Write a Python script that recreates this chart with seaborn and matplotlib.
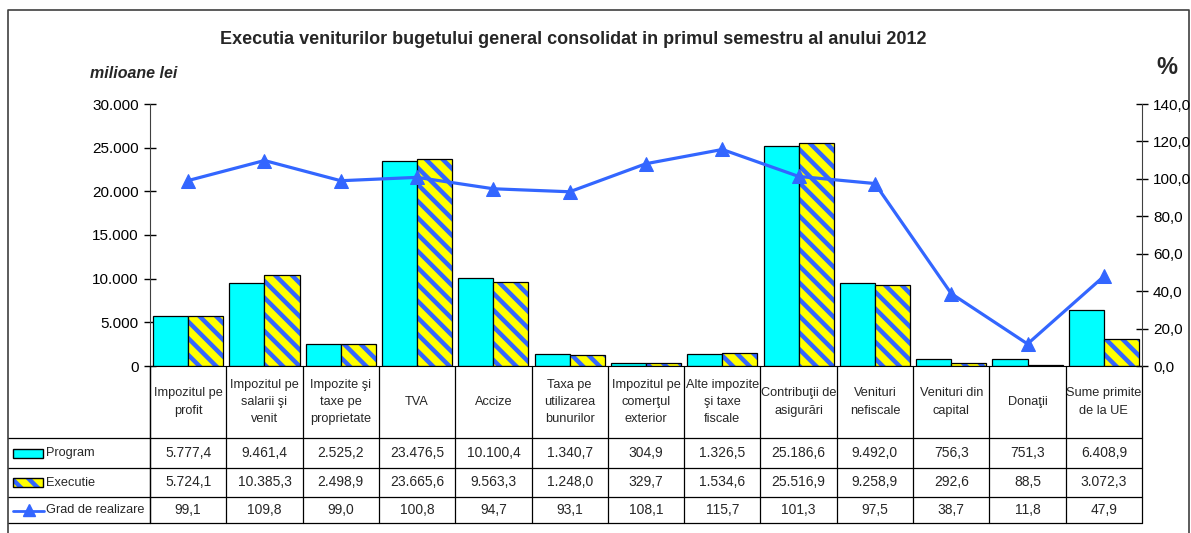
import numpy as np
import pandas as pd
import matplotlib.pyplot as plt
import seaborn as sns
from matplotlib.patches import Rectangle

# ─── Data ────────────────────────────────────────────────────────────────
categories = [
    "Impozitul pe\nprofit", "Impozitul pe\nsalarii şi\nvenit", "Impozite şi\ntaxe pe\nproprietate",
    "TVA", "Accize", "Taxa pe\nutilizarea\nbunurilor", "Impozitul pe\ncomerţul\nexterior",
    "Alte impozite\nşi taxe\nfiscale", "Contribuţii de\nasigurări", "Venituri\nnefiscale",
    "Venituri din\ncapital", "Donaţii", "Sume primite\nde la UE",
]
program = [5777.4, 9461.4, 2525.2, 23476.5, 10100.4, 1340.7, 304.9, 1326.5,
           25186.6, 9492.0, 756.3, 751.3, 6408.9]
executie = [5724.1, 10385.3, 2498.9, 23665.6, 9563.3, 1248.0, 329.7, 1534.6,
            25516.9, 9258.9, 292.6, 88.5, 3072.3]
grad = [99.1, 109.8, 99.0, 100.8, 94.7, 93.1, 108.1, 115.7, 101.3, 97.5, 38.7, 11.8, 47.9]
series_names = ["Program", "Executie", "Grad de realizare"]
left_ticks = [0, 5000, 10000, 15000, 20000, 25000, 30000]
right_ticks = [0, 20, 40, 60, 80, 100, 120, 140]

title = "Executia veniturilor bugetului general consolidat in primul semestru al anului 2012"

CYAN = "#00FFFF"
YELLOW = "#FFFF00"
BLUE = "#3366FF"
HATCH = "\\\\"


def fmt_ro(v, dec=1):
    s = f"{v:,.{dec}f}"
    return s.replace(",", "#").replace(".", ",").replace("#", ".")


sns.set_style("white")
plt.rcParams["font.family"] = ["Liberation Sans Narrow", "Liberation Sans", "DejaVu Sans"]
plt.rcParams["hatch.linewidth"] = 3.2

W, H = 1191, 533
fig = plt.figure(figsize=(W / 100, H / 100), dpi=100)

# background axes in pixel coordinates (frame, legend column, titles)
bg = fig.add_axes([0, 0, 1, 1])
bg.set_xlim(0, W)
bg.set_ylim(H, 0)
bg.axis("off")

X0, X1, Y0, Y1 = 150, 1142, 366, 104
ax = fig.add_axes([X0 / W, 1 - Y0 / H, (X1 - X0) / W, (Y0 - Y1) / H])
ax.patch.set_alpha(0)

df = pd.DataFrame({
    "categorie": categories * 2,
    "serie": [series_names[0]] * len(categories) + [series_names[1]] * len(categories),
    "valoare": program + executie,
})

sns.barplot(data=df, x="categorie", y="valoare", hue="serie", order=categories,
            hue_order=series_names[:2], palette=[CYAN, YELLOW], saturation=1,
            width=0.92, edgecolor="black", linewidth=0.9, legend=False, ax=ax)

# hatched execution bars with black outline
for p in ax.containers[1]:
    p.set_hatch(HATCH)
    p.set_edgecolor(BLUE)
    p.set_linewidth(0)
    ax.add_patch(Rectangle(p.get_xy(), p.get_width(), p.get_height(), fill=False,
                           edgecolor="black", linewidth=0.9, zorder=p.get_zorder() + 0.1))

ax.set_xlim(-0.5, len(categories) - 0.5)
ax.set_ylim(0, 30000)
ax.set_yticks(left_ticks)
ax.set_yticklabels([fmt_ro(v, 0) for v in left_ticks])
ax.set_xticks([])
ax.set_xlabel("")
ax.set_ylabel("")
ax.tick_params(axis="y", direction="inout", length=8, width=1, labelsize=11, pad=4, colors="black")
for s in ["top", "right"]:
    ax.spines[s].set_visible(False)
ax.spines["left"].set_color("#404040")
ax.spines["bottom"].set_color("black")

# ─── Realisation line on right axis ──────────────────────────────────────
ax2 = ax.twinx()
ax2.patch.set_alpha(0)
x_pos = np.arange(len(categories))
sns.lineplot(x=x_pos, y=grad, ax=ax2, color=BLUE, linewidth=2.3, marker="^",
             markersize=10, markeredgecolor=BLUE, legend=False)
ax2.set_ylim(0, 140)
ax2.set_yticks(right_ticks)
ax2.set_yticklabels([fmt_ro(v, 1) for v in right_ticks])
ax2.set_ylabel("")
ax2.tick_params(axis="y", direction="inout", length=8, width=1, labelsize=11, pad=4, colors="black")
for s in ["top", "left", "bottom"]:
    ax2.spines[s].set_visible(False)
ax2.spines["right"].set_color("#404040")
ax2.set_xlim(-0.5, len(categories) - 0.5)

# ─── Data table ──────────────────────────────────────────────────────────
ROWS = [366, 438, 468, 497, 523]


def frac(py):
    return (Y0 - py) / (Y0 - Y1)


tr = ax.get_xaxis_transform()
for b in np.arange(len(categories) + 1) - 0.5:
    ax.plot([b, b], [0, frac(ROWS[-1])], transform=tr, clip_on=False, color="black", lw=0.9)
for py in ROWS[1:]:
    bg.plot([8, X1], [py, py], color="black", lw=0.9)
bg.plot([X0, X0], [ROWS[0], ROWS[-1]], color="black", lw=0.9)

head_y = frac((ROWS[0] + ROWS[1]) / 2)
for i, lab in enumerate(categories):
    ax.text(i, head_y, lab, transform=tr, ha="center", va="center", fontsize=9.2,
            linespacing=1.6, clip_on=False)

row_vals = [[fmt_ro(v) for v in program], [fmt_ro(v) for v in executie], [fmt_ro(v) for v in grad]]
for r, vals in enumerate(row_vals):
    cy = (ROWS[r + 1] + ROWS[r + 2]) / 2
    for i, t in enumerate(vals):
        ax.text(i, frac(cy), t, transform=tr, ha="center", va="center", fontsize=10, clip_on=False)
    bg.text(46, cy, series_names[r], ha="left", va="center", fontsize=9.2)

# legend keys
bg.add_patch(Rectangle((13, 449), 30, 9, facecolor=CYAN, edgecolor="black", lw=1))
bg.add_patch(Rectangle((13, 478), 30, 9, facecolor=YELLOW, edgecolor=BLUE, lw=0, hatch=HATCH))
bg.add_patch(Rectangle((13, 478), 30, 9, fill=False, edgecolor="black", lw=1))
bg.plot([13, 44], [511, 511], color=BLUE, lw=2)
bg.plot([29], [510], marker="^", color=BLUE, markersize=8)

# ─── Frame and titles ────────────────────────────────────────────────────
bg.plot([8, 8, 1189, 1189], [H + 5, 10, 10, H + 5], color="#404040", lw=1.2)
bg.text(573, 40, title, ha="center", va="center", fontsize=13, weight="bold")
bg.text(90, 73, "milioane lei", ha="left", va="center", fontsize=11.5, weight="bold", style="italic")
bg.text(1156, 68, "%", ha="left", va="center", fontsize=17, weight="bold")

fig.savefig("out.png", dpi=100)
